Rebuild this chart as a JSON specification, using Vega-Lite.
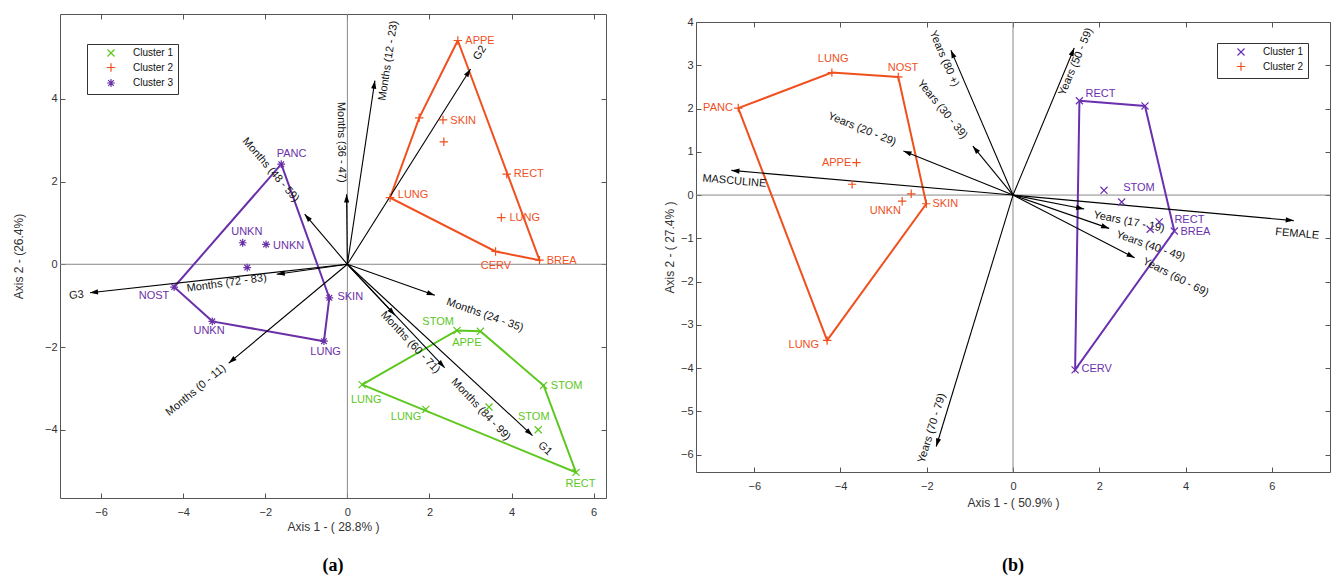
{
  "$schema": "https://vega.github.io/schema/vega-lite/v6.json",
  "padding": {"left": 11, "top": 13, "right": 0, "bottom": 0},
  "background": "white",
  "config": {
    "font": "Liberation Sans",
    "view": {"stroke": "#555", "strokeWidth": 1},
    "axis": {"domain": false, "grid": false, "ticks": true, "tickSize": -5, "tickColor": "#555", "labelFontSize": 11, "labelColor": "#333", "labelPadding": 8, "titleFontSize": 12, "titleFontWeight": "normal", "titleColor": "#333"},
    "axisX": {"labelPadding": 13},
    "legend": {"strokeColor": "#333", "fillColor": "white", "padding": 4, "labelFontSize": 10, "labelColor": "#111", "symbolSize": 50, "symbolStrokeWidth": 1.2, "rowPadding": 1.5, "symbolOffset": 15, "labelOffset": 17}
  },
  "datasets": {
    "zero": [{"v": 0}],
    "empty": [],
    "pointsA": [
      {"cl": "Cluster 3", "x": -1.61, "y": 2.42, "label": "PANC", "lx": -1.36, "ly": 2.66},
      {"cl": "Cluster 3", "x": -2.55, "y": 0.52, "label": "UNKN", "lx": -2.45, "ly": 0.77},
      {"cl": "Cluster 3", "x": -1.98, "y": 0.48, "label": "UNKN", "lx": -1.43, "ly": 0.44},
      {"cl": "Cluster 3", "x": -2.44, "y": -0.08, "label": "", "lx": -2.44, "ly": -0.08},
      {"cl": "Cluster 3", "x": -4.22, "y": -0.55, "label": "NOST", "lx": -4.71, "ly": -0.77},
      {"cl": "Cluster 3", "x": -3.29, "y": -1.38, "label": "UNKN", "lx": -3.37, "ly": -1.62},
      {"cl": "Cluster 3", "x": -0.57, "y": -1.86, "label": "LUNG", "lx": -0.53, "ly": -2.13},
      {"cl": "Cluster 3", "x": -0.44, "y": -0.81, "label": "SKIN", "lx": 0.07, "ly": -0.8},
      {"cl": "Cluster 2", "x": 2.69, "y": 5.41, "label": "APPE", "lx": 3.23, "ly": 5.4},
      {"cl": "Cluster 2", "x": 1.75, "y": 3.54, "label": "", "lx": 1.75, "ly": 3.54},
      {"cl": "Cluster 2", "x": 2.33, "y": 3.49, "label": "SKIN", "lx": 2.82, "ly": 3.46},
      {"cl": "Cluster 2", "x": 2.35, "y": 2.96, "label": "", "lx": 2.35, "ly": 2.96},
      {"cl": "Cluster 2", "x": 3.88, "y": 2.18, "label": "RECT", "lx": 4.42, "ly": 2.18},
      {"cl": "Cluster 2", "x": 1.04, "y": 1.61, "label": "LUNG", "lx": 1.6, "ly": 1.67},
      {"cl": "Cluster 2", "x": 3.75, "y": 1.13, "label": "LUNG", "lx": 4.32, "ly": 1.11},
      {"cl": "Cluster 2", "x": 3.61, "y": 0.31, "label": "CERV", "lx": 3.62, "ly": -0.05},
      {"cl": "Cluster 2", "x": 4.68, "y": 0.1, "label": "BREA", "lx": 5.22, "ly": 0.07},
      {"cl": "Cluster 1", "x": 2.67, "y": -1.6, "label": "STOM", "lx": 2.21, "ly": -1.4},
      {"cl": "Cluster 1", "x": 3.24, "y": -1.62, "label": "APPE", "lx": 2.91, "ly": -1.91},
      {"cl": "Cluster 1", "x": 4.78, "y": -2.93, "label": "STOM", "lx": 5.34, "ly": -2.95},
      {"cl": "Cluster 1", "x": 0.36, "y": -2.91, "label": "LUNG", "lx": 0.46, "ly": -3.27},
      {"cl": "Cluster 1", "x": 1.91, "y": -3.51, "label": "LUNG", "lx": 1.43, "ly": -3.7},
      {"cl": "Cluster 1", "x": 3.45, "y": -3.45, "label": "", "lx": 3.45, "ly": -3.45},
      {"cl": "Cluster 1", "x": 4.65, "y": -4.0, "label": "STOM", "lx": 4.54, "ly": -3.68},
      {"cl": "Cluster 1", "x": 5.57, "y": -5.03, "label": "RECT", "lx": 5.68, "ly": -5.3}
    ],
    "hullsA": [
      {"cl": "Cluster 1", "ord": 1, "x": 0.36, "y": -2.91},
      {"cl": "Cluster 1", "ord": 2, "x": 2.67, "y": -1.6},
      {"cl": "Cluster 1", "ord": 3, "x": 3.24, "y": -1.62},
      {"cl": "Cluster 1", "ord": 4, "x": 4.78, "y": -2.93},
      {"cl": "Cluster 1", "ord": 5, "x": 5.57, "y": -5.03},
      {"cl": "Cluster 1", "ord": 6, "x": 0.36, "y": -2.91},
      {"cl": "Cluster 2", "ord": 1, "x": 2.69, "y": 5.41},
      {"cl": "Cluster 2", "ord": 2, "x": 1.75, "y": 3.54},
      {"cl": "Cluster 2", "ord": 3, "x": 1.04, "y": 1.61},
      {"cl": "Cluster 2", "ord": 4, "x": 3.61, "y": 0.31},
      {"cl": "Cluster 2", "ord": 5, "x": 4.68, "y": 0.1},
      {"cl": "Cluster 2", "ord": 6, "x": 2.69, "y": 5.41},
      {"cl": "Cluster 3", "ord": 1, "x": -1.61, "y": 2.42},
      {"cl": "Cluster 3", "ord": 2, "x": -4.22, "y": -0.55},
      {"cl": "Cluster 3", "ord": 3, "x": -3.29, "y": -1.38},
      {"cl": "Cluster 3", "ord": 4, "x": -0.57, "y": -1.86},
      {"cl": "Cluster 3", "ord": 5, "x": -0.44, "y": -0.81},
      {"cl": "Cluster 3", "ord": 6, "x": -1.61, "y": 2.42}
    ],
    "arrowsA": [
      {"name": "Months (12 - 23)", "x": 0.67, "y": 4.44, "lx": 1.0, "ly": 4.92},
      {"name": "Months (36 - 47)", "x": -0.02, "y": 1.69, "lx": -0.15, "ly": 2.95},
      {"name": "G2", "x": 3.0, "y": 4.72, "lx": 3.23, "ly": 5.11},
      {"name": "Months (48 - 59)", "x": -1.04, "y": 1.21, "lx": -1.87, "ly": 2.28},
      {"name": "Months (72 - 83)", "x": -1.72, "y": -0.24, "lx": -2.94, "ly": -0.46},
      {"name": "G3", "x": -6.27, "y": -0.69, "lx": -6.6, "ly": -0.75},
      {"name": "Months (0 - 11)", "x": -2.89, "y": -2.39, "lx": -3.69, "ly": -3.05},
      {"name": "Months (24 - 35)", "x": 2.13, "y": -0.75, "lx": 3.35, "ly": -1.23},
      {"name": "Months (60 - 71)", "x": 1.16, "y": -1.23, "lx": 1.53, "ly": -1.89},
      {"name": "Months (84 - 99)", "x": 2.37, "y": -2.5, "lx": 3.25, "ly": -3.51},
      {"name": "G1", "x": 4.51, "y": -4.14, "lx": 4.81, "ly": -4.46}
    ],
    "pointsB": [
      {"cl": "Cluster 2", "x": -6.37, "y": 2.01, "label": "PANC", "lx": -6.84, "ly": 2.01},
      {"cl": "Cluster 2", "x": -4.2, "y": 2.83, "label": "LUNG", "lx": -4.17, "ly": 3.15},
      {"cl": "Cluster 2", "x": -2.66, "y": 2.73, "label": "NOST", "lx": -2.55, "ly": 2.94},
      {"cl": "Cluster 2", "x": -3.63, "y": 0.75, "label": "APPE", "lx": -4.09, "ly": 0.75},
      {"cl": "Cluster 2", "x": -3.73, "y": 0.25, "label": "", "lx": -3.73, "ly": 0.25},
      {"cl": "Cluster 2", "x": -2.36, "y": 0.03, "label": "", "lx": -2.36, "ly": 0.03},
      {"cl": "Cluster 2", "x": -2.57, "y": -0.14, "label": "UNKN", "lx": -2.96, "ly": -0.37},
      {"cl": "Cluster 2", "x": -2.01, "y": -0.2, "label": "SKIN", "lx": -1.57, "ly": -0.2},
      {"cl": "Cluster 2", "x": -4.31, "y": -3.36, "label": "LUNG", "lx": -4.85, "ly": -3.46},
      {"cl": "Cluster 1", "x": 1.54, "y": 2.18, "label": "RECT", "lx": 2.03, "ly": 2.33},
      {"cl": "Cluster 1", "x": 3.06, "y": 2.06, "label": "", "lx": 3.06, "ly": 2.06},
      {"cl": "Cluster 1", "x": 2.11, "y": 0.11, "label": "", "lx": 2.11, "ly": 0.11},
      {"cl": "Cluster 1", "x": 2.52, "y": -0.16, "label": "STOM", "lx": 2.92, "ly": 0.17},
      {"cl": "Cluster 1", "x": 3.39, "y": -0.62, "label": "RECT", "lx": 4.09, "ly": -0.58},
      {"cl": "Cluster 1", "x": 3.18, "y": -0.79, "label": "", "lx": 3.18, "ly": -0.79},
      {"cl": "Cluster 1", "x": 3.74, "y": -0.83, "label": "BREA", "lx": 4.23, "ly": -0.86},
      {"cl": "Cluster 1", "x": 1.44, "y": -4.04, "label": "CERV", "lx": 1.94, "ly": -4.03}
    ],
    "hullsB": [
      {"cl": "Cluster 2", "ord": 1, "x": -6.37, "y": 2.01},
      {"cl": "Cluster 2", "ord": 2, "x": -4.2, "y": 2.83},
      {"cl": "Cluster 2", "ord": 3, "x": -2.66, "y": 2.73},
      {"cl": "Cluster 2", "ord": 4, "x": -2.01, "y": -0.2},
      {"cl": "Cluster 2", "ord": 5, "x": -4.31, "y": -3.36},
      {"cl": "Cluster 2", "ord": 6, "x": -6.37, "y": 2.01},
      {"cl": "Cluster 1", "ord": 1, "x": 1.54, "y": 2.18},
      {"cl": "Cluster 1", "ord": 2, "x": 3.06, "y": 2.06},
      {"cl": "Cluster 1", "ord": 3, "x": 3.74, "y": -0.83},
      {"cl": "Cluster 1", "ord": 4, "x": 1.44, "y": -4.04},
      {"cl": "Cluster 1", "ord": 5, "x": 1.54, "y": 2.18}
    ],
    "arrowsB": [
      {"name": "Years (80 +)", "x": -1.44, "y": 3.35, "lx": -1.6, "ly": 3.15},
      {"name": "Years (30 - 39)", "x": -0.93, "y": 1.13, "lx": -1.64, "ly": 1.98},
      {"name": "Years (20 - 29)", "x": -2.54, "y": 1.02, "lx": -3.5, "ly": 1.52},
      {"name": "MASCULINE", "x": -6.53, "y": 0.57, "lx": -6.46, "ly": 0.32},
      {"name": "Years (50 - 59)", "x": 1.42, "y": 3.4, "lx": 1.46, "ly": 3.08},
      {"name": "FEMALE", "x": 6.51, "y": -0.59, "lx": 6.59, "ly": -0.9},
      {"name": "Years (17 - 19)", "x": 1.65, "y": -0.32, "lx": 2.69, "ly": -0.62},
      {"name": "Years (40 - 49)", "x": 2.23, "y": -0.77, "lx": 3.19, "ly": -1.18},
      {"name": "Years (60 - 69)", "x": 2.82, "y": -1.45, "lx": 3.77, "ly": -1.9},
      {"name": "Years (70 - 79)", "x": -1.78, "y": -5.81, "lx": -1.88, "ly": -5.39}
    ]
  },
  "resolve": {"scale": {"color": "independent", "shape": "independent", "stroke": "independent", "fill": "independent"}, "legend": {"color": "independent", "shape": "independent"}},
  "spacing": 55,
  "hconcat": [
    {
      "width": 546,
      "height": 484,
      "title": {"text": "(a)", "orient": "bottom", "anchor": "middle", "font": "Liberation Serif", "fontSize": 18, "fontWeight": "bold", "color": "#000", "offset": 25},
      "resolve": {"axis": {"x": "independent", "y": "independent"}},
      "layer": [
        {
          "data": {"name": "zero"},
          "mark": {"type": "rule", "color": "#888", "strokeWidth": 1},
          "encoding": {
            "x": {"field": "v", "type": "quantitative", "scale": {"domain": [-7, 6.3], "nice": false, "zero": false}, "axis": {"orient": "top", "labels": false, "title": null, "values": [-6, -4, -2, 0, 2, 4, 6]}}
          }
        },
        {
          "data": {"name": "zero"},
          "mark": {"type": "rule", "color": "#888", "strokeWidth": 1},
          "encoding": {
            "y": {"field": "v", "type": "quantitative", "scale": {"domain": [-5.65, 6.05], "nice": false, "zero": false}, "axis": {"orient": "right", "labels": false, "title": null, "values": [-4, -2, 0, 2, 4]}}
          }
        },
        {
          "data": {"name": "hullsA"},
          "mark": {"type": "line", "strokeWidth": 2},
          "encoding": {
            "x": {"field": "x", "type": "quantitative", "scale": {"domain": [-7, 6.3], "nice": false, "zero": false}, "axis": null},
            "y": {"field": "y", "type": "quantitative", "scale": {"domain": [-5.65, 6.05], "nice": false, "zero": false}, "axis": null},
            "stroke": {"field": "cl", "type": "nominal", "scale": {"domain": ["Cluster 3", "Cluster 2", "Cluster 1"], "range": ["#6a30a8", "#f0501e", "#5cc81e"]}, "legend": null},
            "detail": {"field": "cl", "type": "nominal"},
            "order": {"field": "ord", "type": "quantitative"}
          }
        },
        {
          "data": {"name": "arrowsA"},
          "mark": {"type": "rule", "color": "#000", "strokeWidth": 1.1},
          "encoding": {
            "x": {"field": "x", "type": "quantitative", "scale": {"domain": [-7, 6.3], "nice": false, "zero": false}, "axis": null},
            "y": {"field": "y", "type": "quantitative", "scale": {"domain": [-5.65, 6.05], "nice": false, "zero": false}, "axis": null},
            "x2": {"datum": 0},
            "y2": {"datum": 0}
          }
        },
        {
          "data": {"name": "arrowsA"},
          "transform": [{"calculate": "atan2(datum.x, datum.y) * 180 / PI", "as": "ha"}],
          "mark": {"type": "point", "shape": "M0,0L0.32,1L-0.32,1Z", "filled": true, "color": "#000", "size": 260, "opacity": 1},
          "encoding": {
            "x": {"field": "x", "type": "quantitative", "scale": {"domain": [-7, 6.3], "nice": false, "zero": false}, "axis": null},
            "y": {"field": "y", "type": "quantitative", "scale": {"domain": [-5.65, 6.05], "nice": false, "zero": false}, "axis": null},
            "angle": {"field": "ha", "type": "quantitative", "scale": null}
          }
        },
        {
          "data": {"name": "arrowsA"},
          "transform": [
            {"calculate": "-atan2(datum.y, datum.x) * 180 / PI", "as": "a0"},
            {"calculate": "datum.a0 > 90 ? datum.a0 - 180 : (datum.a0 < -90 ? datum.a0 + 180 : datum.a0)", "as": "ta"}
          ],
          "mark": {"type": "text", "fontSize": 11, "color": "#111", "align": "center", "baseline": "middle"},
          "encoding": {
            "x": {"field": "lx", "type": "quantitative", "scale": {"domain": [-7, 6.3], "nice": false, "zero": false}, "axis": null},
            "y": {"field": "ly", "type": "quantitative", "scale": {"domain": [-5.65, 6.05], "nice": false, "zero": false}, "axis": null},
            "text": {"field": "name", "type": "nominal"},
            "angle": {"field": "ta", "type": "quantitative", "scale": null}
          }
        },
        {
          "data": {"name": "pointsA"},
          "mark": {"type": "point", "filled": false, "size": 50, "strokeWidth": 1.2, "opacity": 1},
          "encoding": {
            "x": {"field": "x", "type": "quantitative", "scale": {"domain": [-7, 6.3], "nice": false, "zero": false}, "axis": {"orient": "bottom", "values": [-6, -4, -2, 0, 2, 4, 6], "title": "Axis 1 - ( 28.8% )", "titlePadding": 4}},
            "y": {"field": "y", "type": "quantitative", "scale": {"domain": [-5.65, 6.05], "nice": false, "zero": false}, "axis": {"orient": "left", "values": [-4, -2, 0, 2, 4], "title": "Axis 2 - (26.4%)", "titlePadding": 19}},
            "color": {"field": "cl", "type": "nominal", "scale": {"domain": ["Cluster 1", "Cluster 2", "Cluster 3"], "range": ["#5cc81e", "#f0501e", "#6a30a8"]}, "legend": {"title": null, "orient": "none", "legendX": 27, "legendY": 30}},
            "shape": {"field": "cl", "type": "nominal", "scale": {"domain": ["Cluster 1", "Cluster 2", "Cluster 3"], "range": ["M-1,-1L1,1M-1,1L1,-1", "M-1.2,0L1.2,0M0,-1.2L0,1.2", "M-1.1,0L1.1,0M0,-1.1L0,1.1M-0.8,-0.8L0.8,0.8M-0.8,0.8L0.8,-0.8"]}, "legend": {"title": null, "orient": "none", "legendX": 27, "legendY": 30}}
          }
        },
        {
          "data": {"name": "pointsA"},
          "mark": {"type": "text", "fontSize": 11, "align": "center", "baseline": "middle"},
          "encoding": {
            "x": {"field": "lx", "type": "quantitative", "scale": {"domain": [-7, 6.3], "nice": false, "zero": false}, "axis": null},
            "y": {"field": "ly", "type": "quantitative", "scale": {"domain": [-5.65, 6.05], "nice": false, "zero": false}, "axis": null},
            "text": {"field": "label", "type": "nominal"},
            "fill": {"field": "cl", "type": "nominal", "scale": {"domain": ["Cluster 3", "Cluster 2", "Cluster 1"], "range": ["#6a30a8", "#f0501e", "#5cc81e"]}, "legend": null}
          }
        }
      ]
    },
    {
      "spacing": 0,
      "vconcat": [
        {
          "width": 634,
          "height": 1,
          "view": {"stroke": null},
          "data": {"name": "empty"},
          "mark": {"type": "point"},
          "encoding": {}
        },
        {
          "width": 634,
          "height": 450,
          "title": {"text": "(b)", "orient": "bottom", "anchor": "middle", "font": "Liberation Serif", "fontSize": 18, "fontWeight": "bold", "color": "#000", "offset": 49},
          "resolve": {"axis": {"x": "independent", "y": "independent"}},
          "layer": [
            {
              "data": {"name": "zero"},
              "mark": {"type": "rule", "color": "#888", "strokeWidth": 1},
              "encoding": {
                "x": {"field": "v", "type": "quantitative", "scale": {"domain": [-7.35, 7.35], "nice": false, "zero": false}, "axis": {"orient": "top", "labels": false, "title": null, "values": [-6, -4, -2, 0, 2, 4, 6]}}
              }
            },
            {
              "data": {"name": "zero"},
              "mark": {"type": "rule", "color": "#888", "strokeWidth": 1},
              "encoding": {
                "y": {"field": "v", "type": "quantitative", "scale": {"domain": [-6.4, 4], "nice": false, "zero": false}, "axis": {"orient": "right", "labels": false, "title": null, "values": [-6, -5, -4, -3, -2, -1, 0, 1, 2, 3, 4]}}
              }
            },
            {
              "data": {"name": "hullsB"},
              "mark": {"type": "line", "strokeWidth": 2},
              "encoding": {
                "x": {"field": "x", "type": "quantitative", "scale": {"domain": [-7.35, 7.35], "nice": false, "zero": false}, "axis": null},
                "y": {"field": "y", "type": "quantitative", "scale": {"domain": [-6.4, 4], "nice": false, "zero": false}, "axis": null},
                "stroke": {"field": "cl", "type": "nominal", "scale": {"domain": ["Cluster 2", "Cluster 1"], "range": ["#f0501e", "#6a30b0"]}, "legend": null},
                "detail": {"field": "cl", "type": "nominal"},
                "order": {"field": "ord", "type": "quantitative"}
              }
            },
            {
              "data": {"name": "arrowsB"},
              "mark": {"type": "rule", "color": "#000", "strokeWidth": 1.1},
              "encoding": {
                "x": {"field": "x", "type": "quantitative", "scale": {"domain": [-7.35, 7.35], "nice": false, "zero": false}, "axis": null},
                "y": {"field": "y", "type": "quantitative", "scale": {"domain": [-6.4, 4], "nice": false, "zero": false}, "axis": null},
                "x2": {"datum": 0},
                "y2": {"datum": 0}
              }
            },
            {
              "data": {"name": "arrowsB"},
              "transform": [{"calculate": "atan2(datum.x, datum.y) * 180 / PI", "as": "ha"}],
              "mark": {"type": "point", "shape": "M0,0L0.32,1L-0.32,1Z", "filled": true, "color": "#000", "size": 260, "opacity": 1},
              "encoding": {
                "x": {"field": "x", "type": "quantitative", "scale": {"domain": [-7.35, 7.35], "nice": false, "zero": false}, "axis": null},
                "y": {"field": "y", "type": "quantitative", "scale": {"domain": [-6.4, 4], "nice": false, "zero": false}, "axis": null},
                "angle": {"field": "ha", "type": "quantitative", "scale": null}
              }
            },
            {
              "data": {"name": "arrowsB"},
              "transform": [
                {"calculate": "-atan2(datum.y, datum.x) * 180 / PI", "as": "a0"},
                {"calculate": "datum.a0 > 90 ? datum.a0 - 180 : (datum.a0 < -90 ? datum.a0 + 180 : datum.a0)", "as": "ta"}
              ],
              "mark": {"type": "text", "fontSize": 11, "color": "#111", "align": "center", "baseline": "middle"},
              "encoding": {
                "x": {"field": "lx", "type": "quantitative", "scale": {"domain": [-7.35, 7.35], "nice": false, "zero": false}, "axis": null},
                "y": {"field": "ly", "type": "quantitative", "scale": {"domain": [-6.4, 4], "nice": false, "zero": false}, "axis": null},
                "text": {"field": "name", "type": "nominal"},
                "angle": {"field": "ta", "type": "quantitative", "scale": null}
              }
            },
            {
              "data": {"name": "pointsB"},
              "mark": {"type": "point", "filled": false, "size": 50, "strokeWidth": 1.2, "opacity": 1},
              "encoding": {
                "x": {"field": "x", "type": "quantitative", "scale": {"domain": [-7.35, 7.35], "nice": false, "zero": false}, "axis": {"orient": "bottom", "values": [-6, -4, -2, 0, 2, 4, 6], "title": "Axis 1 - ( 50.9% )", "titlePadding": 6}},
                "y": {"field": "y", "type": "quantitative", "scale": {"domain": [-6.4, 4], "nice": false, "zero": false}, "axis": {"orient": "left", "values": [-6, -5, -4, -3, -2, -1, 0, 1, 2, 3, 4], "title": "Axis 2 - ( 27.4% )", "titlePadding": 4}},
                "color": {"field": "cl", "type": "nominal", "scale": {"domain": ["Cluster 1", "Cluster 2"], "range": ["#6a30b0", "#f0501e"]}, "legend": {"title": null, "orient": "none", "legendX": 521, "legendY": 29}},
                "shape": {"field": "cl", "type": "nominal", "scale": {"domain": ["Cluster 1", "Cluster 2"], "range": ["M-1,-1L1,1M-1,1L1,-1", "M-1.2,0L1.2,0M0,-1.2L0,1.2"]}, "legend": {"title": null, "orient": "none", "legendX": 521, "legendY": 29}}
              }
            },
            {
              "data": {"name": "pointsB"},
              "mark": {"type": "text", "fontSize": 11, "align": "center", "baseline": "middle"},
              "encoding": {
                "x": {"field": "lx", "type": "quantitative", "scale": {"domain": [-7.35, 7.35], "nice": false, "zero": false}, "axis": null},
                "y": {"field": "ly", "type": "quantitative", "scale": {"domain": [-6.4, 4], "nice": false, "zero": false}, "axis": null},
                "text": {"field": "label", "type": "nominal"},
                "fill": {"field": "cl", "type": "nominal", "scale": {"domain": ["Cluster 2", "Cluster 1"], "range": ["#f0501e", "#6a30b0"]}, "legend": null}
              }
            }
          ]
        }
      ]
    }
  ]
}
